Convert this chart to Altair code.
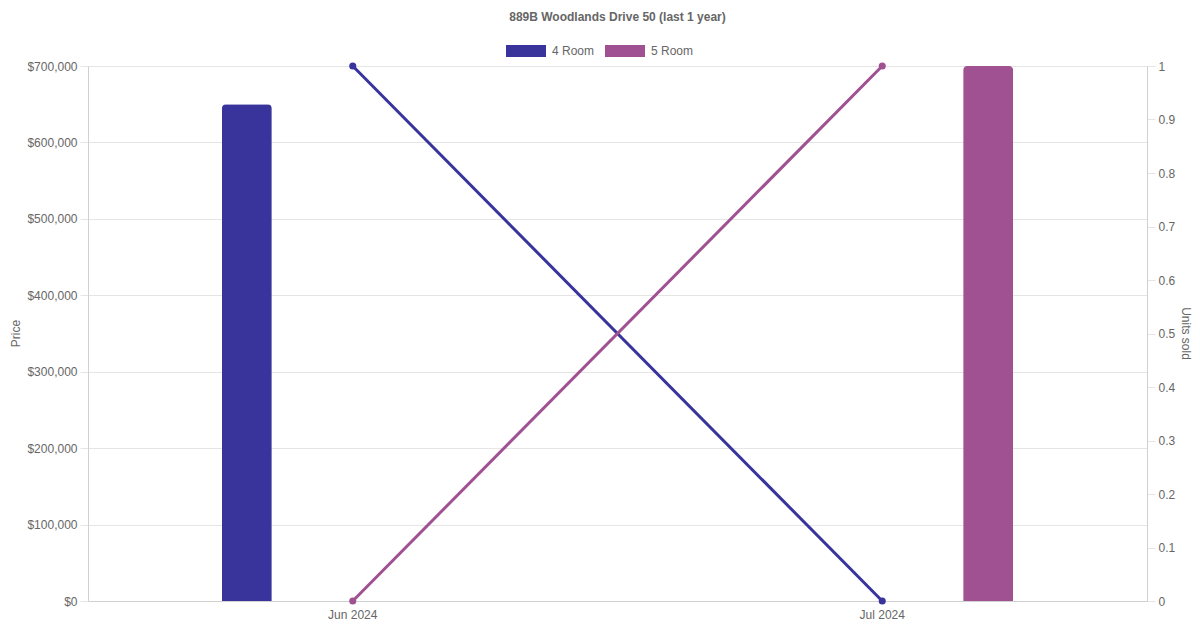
import altair as alt
import pandas as pd

months = ["Jun 2024", "Jul 2024"]
room_types = ["4 Room", "5 Room"]
price_4room = [650000, None]
price_5room = [None, 700000]
units_4room = [1, 0]
units_5room = [0, 1]
colors = ["#38349c", "#a05192"]

rows = []
for i, m in enumerate(months):
    rows.append({"month": m, "type": "4 Room", "price": price_4room[i], "units": units_4room[i]})
    rows.append({"month": m, "type": "5 Room", "price": price_5room[i], "units": units_5room[i]})
df = pd.DataFrame(rows)

FONT = "Liberation Sans"
TXT = "#666666"
GRID = "#e5e5e5"

color = alt.Color(
    "type:N",
    scale=alt.Scale(domain=room_types, range=colors),
    legend=alt.Legend(
        title=None,
        orient="none",
        direction="horizontal",
        legendX=418,
        legendY=-35,
        symbolType="M-1,-0.3H1V0.3H-1Z",
        symbolSize=1600,
        symbolStrokeWidth=0,
        symbolOpacity=1,
        labelOffset=6,
        columnPadding=10,
        padding=0,
        labelFont=FONT,
        labelFontSize=12,
        labelColor=TXT,
    ),
)

x_enc = alt.X(
    "month:N",
    sort=months,
    scale=alt.Scale(paddingInner=0, paddingOuter=0),
    axis=alt.Axis(
        title=None,
        labelAngle=0,
        ticks=False,
        labelPadding=8,
        domainColor="#d0d0d0",
        grid=False,
        labelFont=FONT,
        labelFontSize=12,
        labelColor=TXT,
    ),
)

bars = alt.Chart(df).mark_bar(
    width=50, cornerRadiusTopLeft=4, cornerRadiusTopRight=4
).encode(
    x=x_enc,
    xOffset=alt.XOffset(
        "type:N",
        sort=room_types,
        scale=alt.Scale(domain=room_types, paddingInner=0, paddingOuter=0.25),
    ),
    y=alt.Y(
        "price:Q",
        scale=alt.Scale(domain=[0, 700000], nice=False),
        axis=alt.Axis(
            title="Price",
            format="$,.0f",
            values=list(range(0, 700001, 100000)),
            orient="left",
            tickSize=8,
            tickColor=GRID,
            domainColor="#d0d0d0",
            gridColor=GRID,
            labelPadding=3,
            labelFont=FONT,
            labelFontSize=12,
            labelColor=TXT,
            titleFont=FONT,
            titleFontSize=12,
            titleFontWeight="normal",
            titleColor=TXT,
            titleAngle=-90,
            titleX=-73,
            titleY=267,
            titleAlign="center",
            titleBaseline="middle",
        ),
    ),
    color=color,
)

lines = alt.Chart(df).mark_line(
    strokeWidth=3,
    point=alt.OverlayMarkDef(size=50, filled=True, opacity=1),
).encode(
    x=x_enc,
    y=alt.Y(
        "units:Q",
        scale=alt.Scale(domain=[0, 1], nice=False),
        axis=alt.Axis(
            title="Units sold",
            orient="right",
            values=[round(v * 0.1, 1) for v in range(11)],
            format="~g",
            grid=False,
            tickSize=8,
            tickColor=GRID,
            domainColor="#d0d0d0",
            labelPadding=3,
            labelFont=FONT,
            labelFontSize=12,
            labelColor=TXT,
            titleFont=FONT,
            titleFontSize=12,
            titleFontWeight="normal",
            titleColor=TXT,
            titleAngle=90,
            titleX=38,
            titleY=267,
            titleAlign="center",
            titleBaseline="middle",
        ),
    ),
    color=color,
)

chart = (
    alt.layer(bars, lines)
    .resolve_scale(y="independent")
    .properties(
        width=1059,
        height=535,
        padding={"left": 80, "top": 58, "right": 45, "bottom": 21},
        autosize=alt.AutoSizeParams(type="none"),
        title=alt.TitleParams(
            "889B Woodlands Drive 50 (last 1 year)",
            font=FONT,
            fontSize=12,
            fontWeight="bold",
            color=TXT,
            anchor="middle",
            offset=7,
        ),
        background="white",
    )
    .configure_view(stroke=None)
)

chart.save("out.html", embed_options={"renderer": "svg", "actions": False})
